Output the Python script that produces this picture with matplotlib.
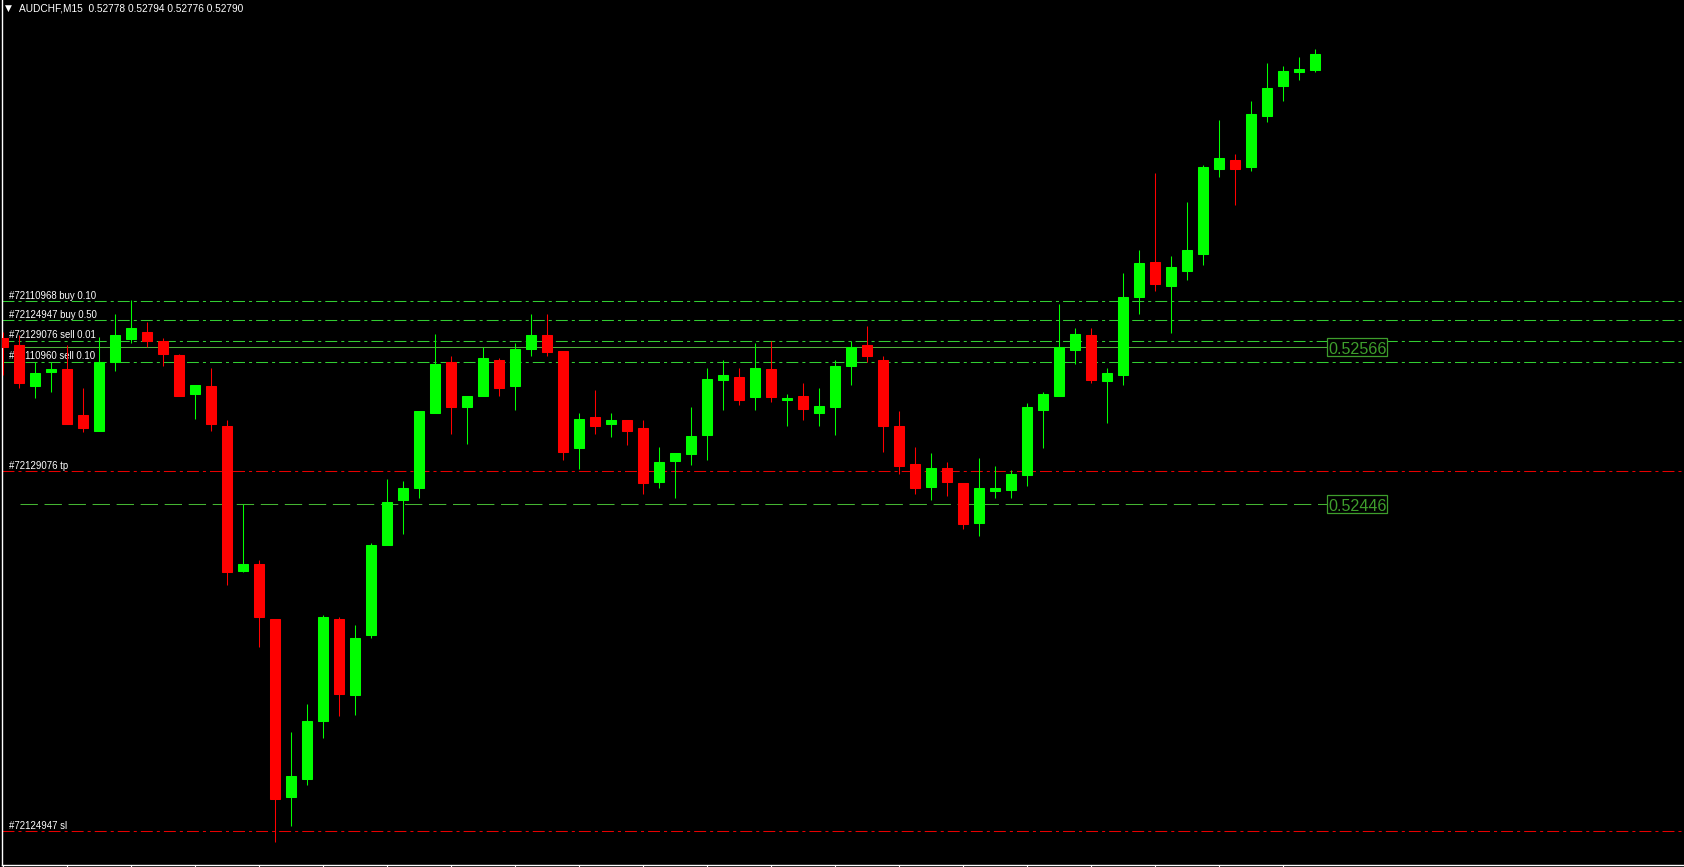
import matplotlib
matplotlib.use("Agg")
import matplotlib.pyplot as plt
import matplotlib.transforms as mtrans
from matplotlib import font_manager as fm
from matplotlib.patches import Rectangle

plt.rcParams['lines.scale_dashes'] = False

# ---------------- data ----------------
symbol_title = "AUDCHF,M15  0.52778 0.52794 0.52776 0.52790"

opens = [0.52573, 0.52568, 0.52536, 0.52547, 0.52549, 0.52514, 0.52502, 0.52555, 0.52572, 0.52578,
         0.52571, 0.52560, 0.52530, 0.52536, 0.52506, 0.52395, 0.52400, 0.52358, 0.52222, 0.52236,
         0.52280, 0.52358, 0.52300, 0.52346, 0.52415, 0.52449, 0.52458, 0.52516, 0.52555, 0.52520,
         0.52529, 0.52556, 0.52536, 0.52565, 0.52575, 0.52563, 0.52489, 0.52513, 0.52507, 0.52510,
         0.52504, 0.52463, 0.52479, 0.52484, 0.52499, 0.52541, 0.52543, 0.52528, 0.52549, 0.52526,
         0.52529, 0.52516, 0.52520, 0.52552, 0.52568, 0.52556, 0.52506, 0.52477, 0.52459, 0.52474,
         0.52462, 0.52432, 0.52456, 0.52457, 0.52468, 0.52518, 0.52529, 0.52564, 0.52575, 0.52540,
         0.52545, 0.52604, 0.52631, 0.52613, 0.52624, 0.52637, 0.52702, 0.52709, 0.52704, 0.52743,
         0.52766, 0.52776, 0.52778]
highs = [0.52578, 0.52575, 0.52555, 0.52555, 0.52568, 0.52535, 0.52574, 0.52591, 0.52602, 0.52585,
         0.52573, 0.52561, 0.52537, 0.52550, 0.52510, 0.52446, 0.52403, 0.52358, 0.52272, 0.52293,
         0.52361, 0.52360, 0.52354, 0.52416, 0.52465, 0.52464, 0.52517, 0.52576, 0.52559, 0.52529,
         0.52566, 0.52558, 0.52569, 0.52591, 0.52591, 0.52563, 0.52516, 0.52533, 0.52516, 0.52510,
         0.52510, 0.52490, 0.52485, 0.52520, 0.52550, 0.52556, 0.52550, 0.52569, 0.52571, 0.52530,
         0.52539, 0.52535, 0.52556, 0.52571, 0.52582, 0.52559, 0.52517, 0.52490, 0.52485, 0.52478,
         0.52462, 0.52481, 0.52475, 0.52472, 0.52523, 0.52532, 0.52599, 0.52581, 0.52581, 0.52550,
         0.52623, 0.52640, 0.52699, 0.52636, 0.52677, 0.52705, 0.52740, 0.52714, 0.52754, 0.52783,
         0.52781, 0.52788, 0.52794]
lows = [0.52545, 0.52535, 0.52527, 0.52532, 0.52507, 0.52501, 0.52502, 0.52548, 0.52569, 0.52566,
        0.52552, 0.52529, 0.52511, 0.52502, 0.52384, 0.52394, 0.52337, 0.52188, 0.52200, 0.52231,
        0.52267, 0.52284, 0.52285, 0.52344, 0.52415, 0.52423, 0.52451, 0.52516, 0.52500, 0.52492,
        0.52529, 0.52529, 0.52518, 0.52559, 0.52559, 0.52480, 0.52473, 0.52500, 0.52497, 0.52491,
        0.52454, 0.52458, 0.52451, 0.52476, 0.52480, 0.52518, 0.52522, 0.52518, 0.52524, 0.52506,
        0.52510, 0.52506, 0.52499, 0.52537, 0.52555, 0.52486, 0.52469, 0.52454, 0.52449, 0.52452,
        0.52427, 0.52422, 0.52451, 0.52451, 0.52460, 0.52489, 0.52529, 0.52553, 0.52539, 0.52508,
        0.52537, 0.52591, 0.52609, 0.52577, 0.52617, 0.52629, 0.52696, 0.52675, 0.52701, 0.52738,
        0.52754, 0.52770, 0.52776]
closes = [0.52566, 0.52539, 0.52546, 0.52549, 0.52507, 0.52504, 0.52555, 0.52575, 0.52581, 0.52571,
          0.52561, 0.52529, 0.52537, 0.52507, 0.52394, 0.52400, 0.52360, 0.52221, 0.52238, 0.52280,
          0.52360, 0.52301, 0.52344, 0.52415, 0.52448, 0.52458, 0.52517, 0.52553, 0.52520, 0.52529,
          0.52558, 0.52535, 0.52565, 0.52575, 0.52562, 0.52486, 0.52511, 0.52506, 0.52510, 0.52502,
          0.52462, 0.52478, 0.52485, 0.52498, 0.52542, 0.52545, 0.52526, 0.52550, 0.52528, 0.52527,
          0.52519, 0.52521, 0.52552, 0.52566, 0.52559, 0.52506, 0.52475, 0.52458, 0.52474, 0.52463,
          0.52431, 0.52458, 0.52458, 0.52469, 0.52520, 0.52530, 0.52566, 0.52576, 0.52541, 0.52546,
          0.52604, 0.52630, 0.52614, 0.52627, 0.52640, 0.52704, 0.52711, 0.52702, 0.52744, 0.52764,
          0.52777, 0.52779, 0.52790]

order_labels = ["#72110968 buy 0.10", "#72124947 buy 0.50", "#72129076 sell 0.01",
                "#72110960 sell 0.10", "#72129076 tp", "#72124947 sl"]
order_prices = [0.52601, 0.52587, 0.52571, 0.52555, 0.52471, 0.52196]
order_kinds = ["entry", "entry", "entry", "entry", "stop", "stop"]

bid_price = 0.52566
level_price = 0.52446
price_labels = ["0.52566", "0.52446"]

# ---------------- style ----------------
BG = "#000000"
BULL = "#00ff00"
BEAR = "#ff0000"
ENTRY_C = "#32cd32"
STOP_C = "#e60000"
BID_C = "#4fae3a"
LEVEL_C = "#44b432"
BOX_C = "#3e9e2c"
W, H, DPI = 1684, 867, 100


def has_font(name):
    try:
        fm.findfont(fm.FontProperties(family=name), fallback_to_default=False)
        return True
    except Exception:
        return False


narrow_ok = has_font("Liberation Sans Narrow")
box_font = "Liberation Sans Narrow" if narrow_ok else "Liberation Sans"
box_size = 14 if narrow_ok else 11.6
small_font = ["Liberation Sans", "DejaVu Sans"]

fig = plt.figure(figsize=(W / DPI, H / DPI), dpi=DPI, facecolor=BG)
ax_left_px, ax_bottom_px = 2.3, 2.0
ax = fig.add_axes([ax_left_px / W, ax_bottom_px / H, (W - ax_left_px) / W, (H - ax_bottom_px) / H])
ax.set_facecolor(BG)

n = len(opens)
xs = list(range(n))
step_px = 16.0
first_px = 3.3
ax.set_xlim((ax_left_px - first_px) / step_px, (W - first_px) / step_px)
ax.set_ylim(0.521702, 0.528314)

# ---------------- order lines ----------------
dashdot = (0, (8.6, 2.9, 2.2, 2.9))
for p, k in zip(order_prices, order_kinds):
    ax.axhline(p, color=ENTRY_C if k == "entry" else STOP_C, lw=0.75,
               linestyle=dashdot, zorder=1)

line_x0 = (20 - first_px) / step_px
line_x1 = (1327 - first_px) / step_px
ax.hlines(bid_price, line_x0, line_x1, color=BID_C, lw=0.75, zorder=1)
ax.hlines(level_price, line_x0, line_x1, color=LEVEL_C, lw=0.75,
          linestyle=(0, (12.5, 4.8)), zorder=1)

# labels above order lines
lab_trans = mtrans.offset_copy(mtrans.blended_transform_factory(ax.transAxes, ax.transData),
                               fig=fig, x=0, y=2.2, units='dots')
for txt, p in zip(order_labels, order_prices):
    ax.text((9 - ax_left_px) / (W - ax_left_px), p, txt, transform=lab_trans,
            ha='left', va='baseline', color='white', fontsize=6.9,
            family=small_font, zorder=2)

# ---------------- candles ----------------
body_w = 10.0 / step_px
for x, o, h, l, c in zip(xs, opens, highs, lows, closes):
    col = BULL if c >= o else BEAR
    ax.vlines(x, l, h, color=col, lw=0.75, zorder=3)
    ax.bar(x, abs(c - o), bottom=min(o, c), width=body_w, color=col,
           edgecolor=col, linewidth=0.75, zorder=4)

# ---------------- price boxes ----------------
for p, txt in zip([bid_price, level_price], price_labels):
    x0, y0 = ax.transData.transform((line_x1, p))
    rect = Rectangle((x0, y0 - 9), 60, 18, transform=mtrans.IdentityTransform(),
                     facecolor=BG, edgecolor=BOX_C, lw=0.9, zorder=5, clip_on=False)
    ax.add_artist(rect)
    ax.text(x0 + 30.5, y0 - 6.8, txt, transform=mtrans.IdentityTransform(),
            ha='center', va='baseline', color=BOX_C, fontsize=box_size,
            family=box_font, zorder=6, clip_on=False)

# ---------------- axes frame ----------------
for s in ['top', 'right']:
    ax.spines[s].set_visible(False)
for s in ['left', 'bottom']:
    ax.spines[s].set_color('white')
    ax.spines[s].set_linewidth(1.0)
ax.set_yticks([])
ax.set_xticks(list(range(0, n - 1, 4)))
ax.tick_params(axis='x', direction='out', length=2, width=0.8, colors='white',
               labelbottom=False)

# ---------------- title ----------------
fig.text(4.5 / W, 1 - 11 / H, "\u25bc", color='white', fontsize=6.5,
         family=["DejaVu Sans"], ha='left', va='baseline')
fig.text(19 / W, 1 - 11.3 / H, symbol_title, color='white', fontsize=7.3,
         family=small_font, ha='left', va='baseline')

fig.savefig("out.png", dpi=DPI, facecolor=BG)
